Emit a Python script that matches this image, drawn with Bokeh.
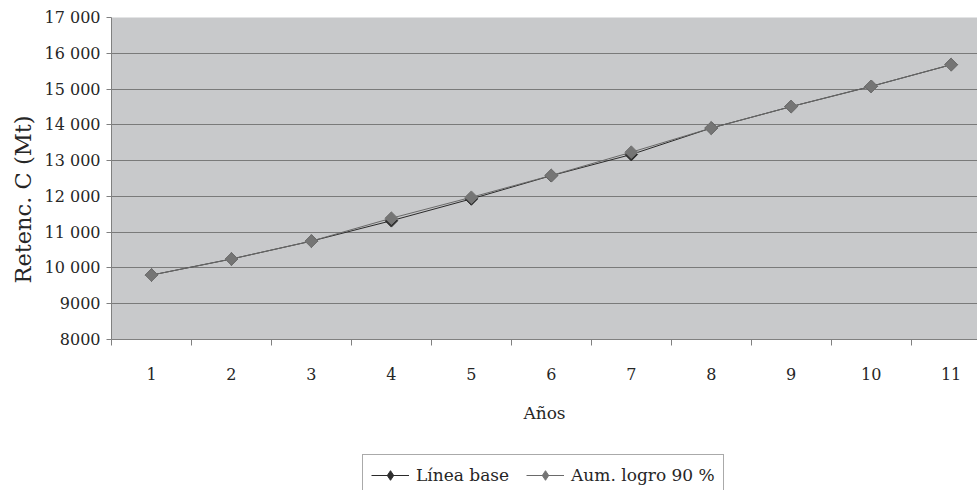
import numpy as np
from bokeh.plotting import figure
from bokeh.layouts import column, row
from bokeh.models import (FixedTicker, Range1d, Legend, LegendItem, ColumnDataSource)
from bokeh.embed import file_html
from bokeh.resources import INLINE

years = [1, 2, 3, 4, 5, 6, 7, 8, 9, 10, 11]
linea_base = [9800, 10250, 10750, 11320, 11930, 12580, 13170, 13910, 14510, 15075, 15680]
aum_logro_90 = [9800, 10250, 10750, 11390, 11975, 12585, 13235, 13910, 14510, 15075, 15680]
y_ticks = [8000, 9000, 10000, 11000, 12000, 13000, 14000, 15000, 16000, 17000]
y_tick_labels = ["8000", "9000", "10 000", "11 000", "12 000", "13 000",
                 "14 000", "15 000", "16 000", "17 000"]
x_title = "Años"
y_title = "Retenc. C (Mt)"
series_names = ["Línea base", "Aum. logro 90 %"]

FONT = "DejaVu Serif"
TXT = "#262626"
BASE_LINE, BASE_MARK = "#2a2a2a", "#2e2e2e"
AUM_LINE, AUM_MARK = "#6a6a6a", "#757575"

# ---------------- main chart ----------------
p = figure(width=937, height=453, output_backend="svg", toolbar_location=None,
           x_range=Range1d(0.5, 11.33), y_range=Range1d(8000, 17000),
           min_border_left=71, min_border_right=0, min_border_top=17,
           min_border_bottom=114)
p.frame_align = False
p.background_fill_color = "#c8c9cb"
p.border_fill_color = "white"
p.outline_line_color = None

p.xgrid.grid_line_color = None
p.ygrid.grid_line_color = "#7a7a7a"
p.ygrid.grid_line_width = 1
p.ygrid.ticker = FixedTicker(ticks=y_ticks)

p.yaxis.ticker = FixedTicker(ticks=y_ticks)
p.yaxis.major_label_overrides = {t: l for t, l in zip(y_ticks, y_tick_labels)}
p.yaxis.major_label_text_font = FONT
p.yaxis.major_label_text_font_size = "16px"
p.yaxis.major_label_text_color = TXT
p.yaxis.axis_line_color = "#808080"
p.yaxis.major_tick_line_color = "#808080"
p.yaxis.major_tick_out = 5
p.yaxis.major_tick_in = 0
p.yaxis.minor_tick_line_color = None
p.yaxis.major_label_standoff = 6

minor = [y - 0.5 for y in years] + [years[-1] + 0.5]
p.xaxis.ticker = FixedTicker(ticks=years, minor_ticks=minor)
p.xaxis.major_label_text_font = FONT
p.xaxis.major_label_text_font_size = "16px"
p.xaxis.major_label_text_color = TXT
p.xaxis.axis_line_color = "#808080"
p.xaxis.major_tick_line_color = None
p.xaxis.major_tick_out = 0
p.xaxis.major_tick_in = 0
p.xaxis.minor_tick_line_color = "#808080"
p.xaxis.minor_tick_out = 6
p.xaxis.minor_tick_in = 0
p.xaxis.major_label_standoff = 22
p.xaxis.axis_label = x_title
p.xaxis.axis_label_text_font = FONT
p.xaxis.axis_label_text_font_size = "17px"
p.xaxis.axis_label_text_font_style = "normal"
p.xaxis.axis_label_text_color = TXT
p.xaxis.axis_label_standoff = 20

src = ColumnDataSource(dict(x=years, base=linea_base, aum=aum_logro_90))

p.line("x", "base", source=src, line_color=BASE_LINE, line_width=1)
p.scatter("x", "base", source=src, marker="square", angle=np.pi / 4, size=9,
          fill_color=BASE_MARK, line_color=BASE_MARK)
p.line("x", "aum", source=src, line_color=AUM_LINE, line_width=1)
p.scatter("x", "aum", source=src, marker="square", angle=np.pi / 4, size=9,
          fill_color=AUM_MARK, line_color=AUM_MARK)

# ---------------- y-axis title strip ----------------
yfig = figure(width=40, height=453, output_backend="svg", toolbar_location=None,
              x_axis_type=None, min_border_left=36, min_border_right=0,
              min_border_top=0, min_border_bottom=55,
              x_range=Range1d(0, 1), y_range=Range1d(0, 1))
yfig.frame_align = False
yfig.outline_line_color = None
yfig.grid.visible = False
yfig.yaxis.ticker = FixedTicker(ticks=[])
yfig.yaxis.axis_line_color = None
yfig.yaxis.major_tick_line_color = None
yfig.yaxis.minor_tick_line_color = None
yfig.yaxis.major_label_standoff = 0
yfig.yaxis.major_tick_out = 0
yfig.yaxis.axis_label = y_title
yfig.yaxis.axis_label_standoff = 1
yfig.yaxis.axis_label_text_font = FONT
yfig.yaxis.axis_label_text_font_size = "22.5px"
yfig.yaxis.axis_label_text_font_style = "normal"
yfig.yaxis.axis_label_text_color = TXT

# ---------------- legend strip ----------------
lfig = figure(width=977, height=37, output_backend="svg", toolbar_location=None,
              x_axis_type=None, y_axis_type=None, min_border=0,
              x_range=Range1d(100, 101), y_range=Range1d(100, 101))
lfig.frame_align = False
lfig.outline_line_color = None
lfig.grid.visible = False
ll1 = lfig.line("x", "base", source=src, line_color=BASE_LINE, line_width=1)
ls1 = lfig.scatter("x", "base", source=src, marker="diamond", size=11,
                   fill_color=BASE_MARK, line_color=BASE_MARK)
ll2 = lfig.line("x", "aum", source=src, line_color=AUM_LINE, line_width=1)
ls2 = lfig.scatter("x", "aum", source=src, marker="diamond", size=11,
                   fill_color=AUM_MARK, line_color=AUM_MARK)
legend = Legend(items=[LegendItem(label=series_names[0], renderers=[ll1, ls1]),
                       LegendItem(label=series_names[1], renderers=[ll2, ls2])],
                location=(362, -6), orientation="horizontal",
                label_text_font=FONT, label_text_font_size="17px",
                label_text_color=TXT, glyph_width=38, glyph_height=24,
                label_standoff=7, spacing=17, padding=8, margin=0,
                border_line_color="#555555", border_line_width=1.5,
                background_fill_color="white", background_fill_alpha=1)
lfig.add_layout(legend, "center")

layout = column(row(yfig, p), lfig)
open("out.html", "w").write(file_html(layout, INLINE))
